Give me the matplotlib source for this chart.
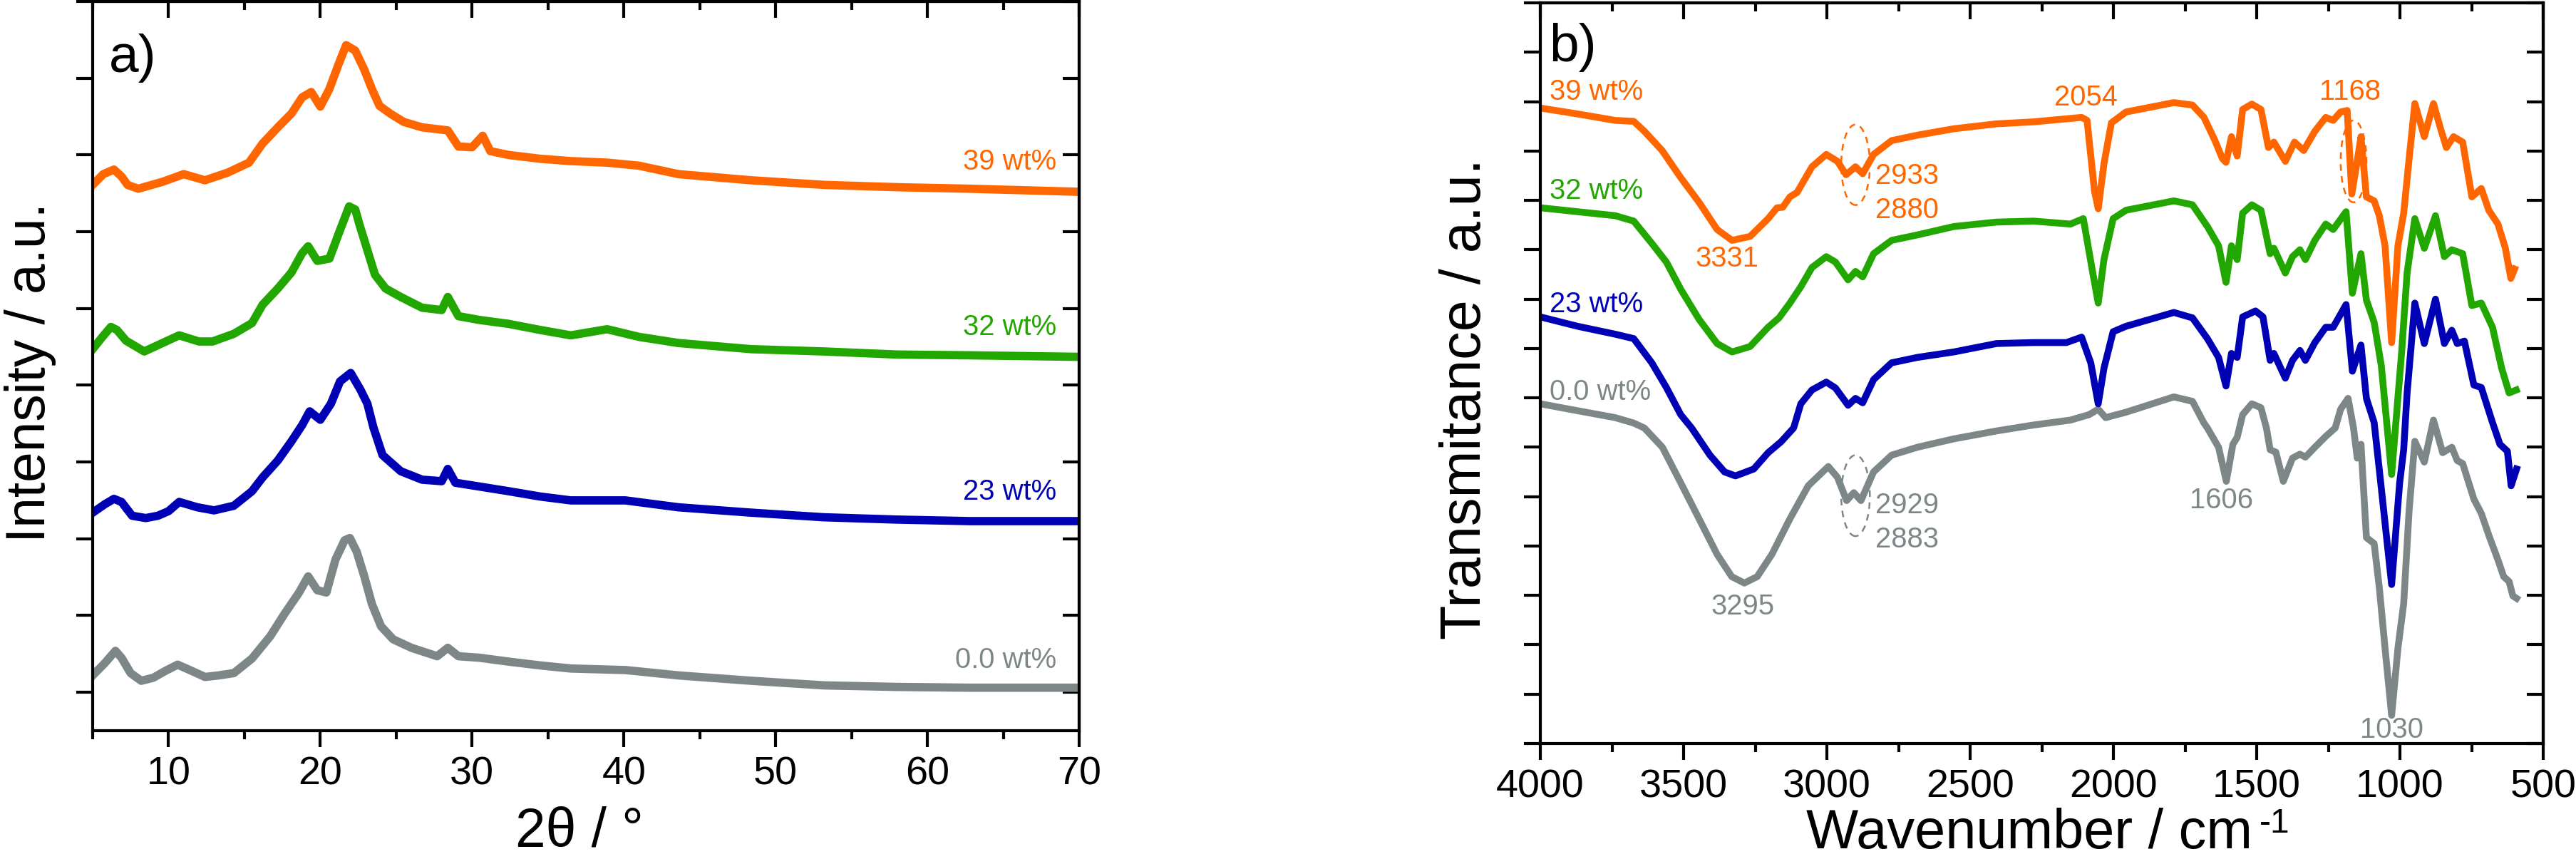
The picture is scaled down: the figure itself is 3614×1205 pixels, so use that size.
import matplotlib
matplotlib.use('Agg')
import matplotlib.pyplot as plt
from matplotlib.ticker import MultipleLocator, NullFormatter
from matplotlib.patches import Ellipse

plt.rcParams['font.family'] = ['Liberation Sans', 'DejaVu Sans']

# ---------------- colours ----------------
C_ORANGE = '#FF6600'
C_GREEN = '#22A600'
C_BLUE = '#0000B4'
C_GRAY = '#7D8787'

# ---------------- XRD data (2theta, offset intensity) ----------------
xrd_gray_x = [5.0, 5.8, 6.5, 6.9, 7.5, 8.2, 9.0, 9.8, 10.6, 11.4, 12.4, 13.3, 14.3, 15.5, 16.7, 17.6, 18.6,
              19.2, 19.8, 20.4, 21.0, 21.6, 21.95, 22.4, 22.9, 23.4, 24.0, 24.8, 26.0, 27.7, 28.4, 29.1,
              30.5, 32.4, 34.5, 36.5, 40.1, 43.6, 48.4, 53.2, 58.0, 62.8, 70.0]
xrd_gray_y = [0.22, 0.38, 0.54, 0.45, 0.25, 0.15, 0.19, 0.28, 0.36, 0.29, 0.20, 0.22, 0.25, 0.44, 0.73, 1.01, 1.30,
              1.51, 1.33, 1.30, 1.73, 1.98, 2.01, 1.83, 1.51, 1.15, 0.86, 0.69, 0.58, 0.47, 0.58, 0.47,
              0.45, 0.40, 0.35, 0.31, 0.29, 0.22, 0.15, 0.09, 0.07, 0.06, 0.06]

xrd_blue_x = [5.0, 5.8, 6.4, 6.9, 7.6, 8.5, 9.3, 10.0, 10.7, 11.9, 13.0, 14.3, 15.5, 16.2, 17.2, 18.1, 18.8,
              19.3, 20.0, 20.7, 21.3, 22.0, 22.65, 23.1, 23.5, 24.1, 25.3, 26.7, 28.0, 28.4, 28.9, 30.5,
              32.4, 34.5, 36.5, 40.1, 43.6, 48.4, 53.2, 58.0, 62.8, 70.0]
xrd_blue_y = [2.34, 2.45, 2.52, 2.48, 2.30, 2.27, 2.30, 2.36, 2.48, 2.41, 2.37, 2.43, 2.62, 2.80, 3.02, 3.27, 3.48,
              3.66, 3.55, 3.76, 4.05, 4.16, 3.94, 3.76, 3.45, 3.09, 2.88, 2.77, 2.75, 2.91, 2.73, 2.68,
              2.62, 2.55, 2.50, 2.50, 2.41, 2.34, 2.28, 2.25, 2.23, 2.23]

xrd_green_x = [5.0, 5.6, 6.2, 6.6, 7.2, 8.4, 9.6, 10.7, 12.0, 12.9, 14.3, 15.5, 16.2, 17.2, 18.1, 18.8, 19.2,
               19.8, 20.6, 21.2, 21.9, 22.3, 22.6, 23.1, 23.6, 24.3, 25.3, 26.7, 28.0, 28.4, 29.1, 30.5,
               32.4, 34.5, 36.5, 38.9, 41.0, 43.6, 48.4, 53.2, 58.0, 62.8, 70.0]
xrd_green_y = [4.47, 4.62, 4.76, 4.72, 4.58, 4.44, 4.55, 4.65, 4.57, 4.57, 4.67, 4.81, 5.05, 5.26, 5.47, 5.72, 5.81,
               5.62, 5.65, 5.97, 6.33, 6.29, 6.08, 5.76, 5.44, 5.26, 5.15, 5.01, 4.98, 5.15, 4.90, 4.85,
               4.80, 4.72, 4.65, 4.73, 4.63, 4.55, 4.47, 4.44, 4.40, 4.39, 4.37]

xrd_orange_x = [5.0, 5.7, 6.4, 6.9, 7.3, 8.0, 9.6, 11.0, 12.4, 13.9, 15.3, 16.2, 17.2, 18.1, 18.8, 19.4, 20.0,
                20.6, 21.2, 21.7, 22.3, 22.9, 23.4, 23.9, 24.6, 25.5, 26.7, 28.4, 29.1, 30.0, 30.7, 31.2,
                32.4, 34.5, 36.5, 38.9, 41.0, 43.6, 48.4, 53.2, 58.0, 62.8, 70.0]
xrd_orange_y = [6.61, 6.75, 6.81, 6.72, 6.61, 6.56, 6.65, 6.75, 6.67, 6.77, 6.90, 7.15, 7.36, 7.54, 7.75, 7.82, 7.63,
                7.86, 8.18, 8.43, 8.36, 8.11, 7.86, 7.64, 7.54, 7.43, 7.36, 7.32, 7.11, 7.10, 7.25, 7.05,
                7.00, 6.95, 6.92, 6.90, 6.86, 6.75, 6.67, 6.61, 6.58, 6.56, 6.52]

xrd_labels = ['39 wt%', '32 wt%', '23 wt%', '0.0 wt%']
xrd_label_y = [6.91, 4.76, 2.61, 0.42]

# ---------------- FTIR data (wavenumber, offset transmittance) ----------------
ftir_orange_x = [4000, 3870, 3739, 3674, 3637, 3575, 3510, 3446, 3383, 3331, 3268, 3205, 3174, 3154, 3129, 3104,
                 3052, 3002, 2963, 2933, 2900, 2875, 2837, 2774, 2684, 2557, 2408, 2279, 2111, 2092, 2066, 2053,
                 2033, 2007, 1956, 1789, 1724, 1684, 1647, 1620, 1607, 1588, 1568, 1549, 1517, 1485, 1459, 1440,
                 1400, 1368, 1336, 1297, 1259, 1233, 1207, 1184, 1168, 1149, 1136, 1117, 1090, 1072, 1052, 1029,
                 1007, 987, 967, 948, 915, 883, 858, 838, 813, 781, 749, 716, 690, 658, 632, 613, 600]
ftir_orange_y = [11.87, 11.75, 11.62, 11.60, 11.40, 11.01, 10.46, 9.96, 9.41, 9.19, 9.27, 9.63, 9.85, 9.86, 10.07, 10.16,
                 10.68, 10.93, 10.79, 10.52, 10.68, 10.54, 10.93, 11.21, 11.32, 11.45, 11.55, 11.59, 11.68, 11.62, 10.19, 9.83,
                 10.74, 11.57, 11.79, 11.98, 11.93, 11.68, 11.23, 10.85, 10.77, 11.29, 10.90, 11.84, 11.95, 11.84, 11.07, 11.18,
                 10.79, 11.18, 11.01, 11.40, 11.68, 11.62, 11.79, 11.82, 10.13, 10.80, 11.29, 10.07, 9.99, 9.69, 9.08, 7.12,
                 9.08, 9.74, 10.90, 11.96, 11.29, 11.96, 11.45, 11.07, 11.29, 11.18, 10.07, 10.24, 9.80, 9.52, 9.03, 8.42, 8.61]

ftir_green_x = [4000, 3870, 3739, 3674, 3611, 3560, 3510, 3446, 3383, 3331, 3268, 3205, 3167, 3129, 3091, 3052,
                3002, 2970, 2926, 2900, 2875, 2837, 2774, 2684, 2557, 2408, 2279, 2150, 2105, 2072, 2053, 2033,
                2001, 1956, 1789, 1724, 1672, 1633, 1607, 1588, 1568, 1549, 1517, 1485, 1453, 1440, 1400, 1375,
                1349, 1330, 1297, 1259, 1233, 1188, 1166, 1136, 1117, 1090, 1065, 1029, 994, 975, 948, 915,
                876, 845, 819, 781, 749, 716, 677, 645, 619, 594]
ftir_green_y = [9.85, 9.77, 9.69, 9.58, 9.13, 8.75, 8.20, 7.59, 7.10, 6.93, 7.04, 7.43, 7.62, 7.92, 8.25, 8.64,
                8.86, 8.75, 8.39, 8.56, 8.45, 8.92, 9.19, 9.30, 9.47, 9.56, 9.58, 9.52, 9.63, 8.53, 7.92, 8.80,
                9.63, 9.80, 9.99, 9.91, 9.47, 9.08, 8.34, 9.08, 8.80, 9.74, 9.91, 9.80, 8.92, 9.03, 8.53, 8.86,
                9.00, 8.80, 9.19, 9.52, 9.41, 9.77, 8.12, 8.92, 7.98, 7.53, 6.65, 4.45, 6.93, 8.53, 9.63, 9.03,
                9.69, 8.86, 9.00, 8.92, 7.87, 7.92, 7.43, 6.60, 6.10, 6.16]

ftir_blue_x = [4000, 3870, 3739, 3674, 3611, 3560, 3510, 3472, 3408, 3357, 3319, 3255, 3205, 3160, 3116, 3091,
               3052, 3002, 2970, 2926, 2900, 2875, 2837, 2774, 2684, 2557, 2408, 2279, 2164, 2111, 2079, 2053,
               2033, 2001, 1956, 1789, 1724, 1672, 1633, 1607, 1588, 1568, 1549, 1504, 1478, 1453, 1440, 1400,
               1375, 1349, 1330, 1297, 1259, 1233, 1188, 1166, 1136, 1117, 1090, 1065, 1029, 1001, 987, 975,
               948, 915, 876, 845, 819, 800, 775, 742, 716, 677, 651, 625, 612, 593]
ftir_blue_y = [7.64, 7.45, 7.29, 7.20, 6.71, 6.21, 5.66, 5.39, 4.84, 4.50, 4.42, 4.56, 4.89, 5.11, 5.39, 5.88,
               6.16, 6.32, 6.20, 5.85, 5.99, 5.90, 6.37, 6.71, 6.82, 6.93, 7.10, 7.12, 7.12, 7.23, 6.71, 5.88,
               6.60, 7.34, 7.45, 7.73, 7.62, 7.20, 6.82, 6.24, 6.90, 6.82, 7.64, 7.76, 7.64, 6.76, 6.90, 6.40,
               6.76, 6.96, 6.76, 7.12, 7.43, 7.43, 7.89, 6.54, 7.07, 5.99, 5.50, 4.17, 2.22, 4.28, 4.95, 6.10,
               7.92, 7.10, 8.00, 7.10, 7.37, 7.10, 7.15, 6.26, 6.21, 5.50, 5.06, 4.92, 4.22, 4.56]

ftir_gray_x = [4000, 3870, 3739, 3674, 3637, 3574, 3510, 3446, 3383, 3332, 3288, 3243, 3192, 3129, 3065, 2995,
               2963, 2931, 2906, 2881, 2837, 2774, 2684, 2557, 2408, 2279, 2150, 2085, 2053, 2027, 1956, 1789,
               1724, 1685, 1672, 1633, 1606, 1583, 1568, 1549, 1517, 1485, 1466, 1453, 1433, 1407, 1375, 1349,
               1330, 1297, 1259, 1226, 1207, 1181, 1162, 1149, 1136, 1117, 1090, 1072, 1052, 1029, 1007, 987,
               968, 948, 915, 883, 851, 819, 800, 781, 742, 716, 690, 658, 638, 619, 606, 593]
ftir_gray_y = [5.88, 5.74, 5.60, 5.49, 5.39, 5.00, 4.28, 3.55, 2.83, 2.38, 2.25, 2.38, 2.83, 3.55, 4.22, 4.61,
               4.39, 3.92, 4.08, 3.92, 4.50, 4.84, 5.00, 5.17, 5.33, 5.45, 5.55, 5.66, 5.77, 5.60, 5.71, 6.02,
               5.93, 5.50, 5.39, 5.00, 4.31, 5.06, 5.20, 5.66, 5.88, 5.80, 5.39, 4.95, 4.90, 4.31, 4.78, 4.86,
               4.80, 5.00, 5.22, 5.39, 5.77, 5.99, 5.39, 4.78, 5.06, 3.17, 3.05, 2.16, 0.93, -0.43, 0.93, 1.83,
               3.72, 5.12, 4.70, 5.55, 4.89, 5.00, 4.73, 4.67, 3.95, 3.66, 3.22, 2.72, 2.38, 2.28, 1.99, 1.94]

ftir_labels = ['39 wt%', '32 wt%', '23 wt%', '0.0 wt%']
ftir_label_y = [12.19, 10.19, 7.89, 6.12]

# peak annotations: (text, x, y, ha, colour)
ftir_peaks = [
    ('3331', 3348, 8.82, 'center', C_ORANGE),
    ('2933', 2831, 10.49, 'left', C_ORANGE),
    ('2880', 2831, 9.80, 'left', C_ORANGE),
    ('2054', 2095, 12.08, 'center', C_ORANGE),
    ('1168', 1174, 12.19, 'center', C_ORANGE),
    ('2929', 2831, 3.82, 'left', C_GRAY),
    ('2883', 2831, 3.13, 'left', C_GRAY),
    ('3295', 3293, 1.77, 'center', C_GRAY),
    ('1606', 1624, 3.92, 'center', C_GRAY),
    ('1030', 1029, -0.73, 'center', C_GRAY),
]
# dashed ellipses: (x centre, y centre, width, height, colour)
ftir_ellipses = [
    (2900, 10.72, 100, 1.63, C_ORANGE),
    (1162, 10.79, 90, 1.66, C_ORANGE),
    (2900, 4.02, 100, 1.64, C_GRAY),
]

# ---------------- figure ----------------
W, H = 3614, 1205
fig = plt.figure(figsize=(W / 300, H / 300), dpi=300)


def fx(x):
    return x / W


def fy(y):
    return 1 - y / H


axA = fig.add_axes([fx(130), fy(1025), (1514 - 130) / W, (1025 - 2) / H])
axB = fig.add_axes([fx(2161), fy(1043), (3568 - 2161) / W, (1043 - 4) / H])


def style(ax, xmaj, xmin, ymaj):
    for s in ax.spines.values():
        s.set_linewidth(1.0)
    ax.xaxis.set_major_locator(MultipleLocator(xmaj))
    ax.xaxis.set_minor_locator(MultipleLocator(xmin))
    ax.yaxis.set_major_locator(MultipleLocator(ymaj))
    ax.tick_params(axis='both', which='both', direction='out', top=False, right=False, width=1.0)
    ax.tick_params(which='major', length=5.5)
    ax.tick_params(which='minor', length=2.8)
    ax.tick_params(axis='x', labelsize=13.4, pad=3)
    ax.tick_params(axis='y', labelleft=False)
    sx = ax.secondary_xaxis('top')
    sx.xaxis.set_major_locator(MultipleLocator(xmaj))
    sx.xaxis.set_minor_locator(MultipleLocator(xmin))
    sx.xaxis.set_major_formatter(NullFormatter())
    sx.tick_params(which='both', direction='in', width=1.0, labeltop=False)
    sx.tick_params(which='major', length=5.5)
    sx.tick_params(which='minor', length=2.8)
    sx.spines['top'].set_linewidth(1.0)
    sy = ax.secondary_yaxis('right')
    sy.yaxis.set_major_locator(MultipleLocator(ymaj))
    sy.yaxis.set_major_formatter(NullFormatter())
    sy.tick_params(which='both', direction='in', width=1.0, length=5.5, labelright=False)
    sy.spines['right'].set_linewidth(1.0)


# ---- panel a) XRD ----
lw_xrd = 2.8
axA.plot(xrd_gray_x, xrd_gray_y, color=C_GRAY, lw=lw_xrd)
axA.plot(xrd_blue_x, xrd_blue_y, color=C_BLUE, lw=lw_xrd)
axA.plot(xrd_green_x, xrd_green_y, color=C_GREEN, lw=lw_xrd)
axA.plot(xrd_orange_x, xrd_orange_y, color=C_ORANGE, lw=lw_xrd)
axA.set_xlim(5, 70)
axA.set_ylim(-0.5, 9)
style(axA, 10, 5, 1)
for lab, yy, col in zip(xrd_labels, xrd_label_y, [C_ORANGE, C_GREEN, C_BLUE, C_GRAY]):
    axA.text(68.5, yy, lab, color=col, fontsize=9.6, ha='right', va='center')

# ---- panel b) FTIR ----
lw_ir = 2.3
axB.plot(ftir_gray_x, ftir_gray_y, color=C_GRAY, lw=lw_ir)
axB.plot(ftir_blue_x, ftir_blue_y, color=C_BLUE, lw=lw_ir)
axB.plot(ftir_green_x, ftir_green_y, color=C_GREEN, lw=lw_ir)
axB.plot(ftir_orange_x, ftir_orange_y, color=C_ORANGE, lw=lw_ir)
axB.set_xlim(4000, 500)
axB.set_ylim(-1, 14)
style(axB, 500, 250, 1)
for lab, yy, col in zip(ftir_labels, ftir_label_y, [C_ORANGE, C_GREEN, C_BLUE, C_GRAY]):
    axB.text(3968, yy, lab, color=col, fontsize=9.6, ha='left', va='center')
for txt, xx, yy, ha, col in ftir_peaks:
    axB.text(xx, yy, txt, color=col, fontsize=9.6, ha=ha, va='center')
for xc, yc, w, h, col in ftir_ellipses:
    axB.add_patch(Ellipse((xc, yc), w, h, fill=False, edgecolor=col, lw=0.6,
                          linestyle=(0, (3.7, 3.0))))

# ---- labels ----
fig.text(fx(43), fy(523), 'Intensity / a.u.', rotation=90, ha='center', va='center', fontsize=18.4)
fig.text(fx(2057), fy(560), 'Transmitance / a.u.', rotation=90, ha='center', va='center', fontsize=19)
fig.text(fx(813), fy(1187), '2\u03b8 / \u00b0', ha='center', va='baseline', fontsize=18.4)
fig.text(fx(3160), fy(1190), 'Wavenumber / cm', ha='right', va='baseline', fontsize=18.6)
fig.text(fx(3170), fy(1168), '-1', ha='left', va='baseline', fontsize=11.5)
fig.text(fx(153), fy(101), 'a)', ha='left', va='baseline', fontsize=18)
fig.text(fx(2173), fy(86), 'b)', ha='left', va='baseline', fontsize=18)

fig.savefig('out.png', dpi=300)
